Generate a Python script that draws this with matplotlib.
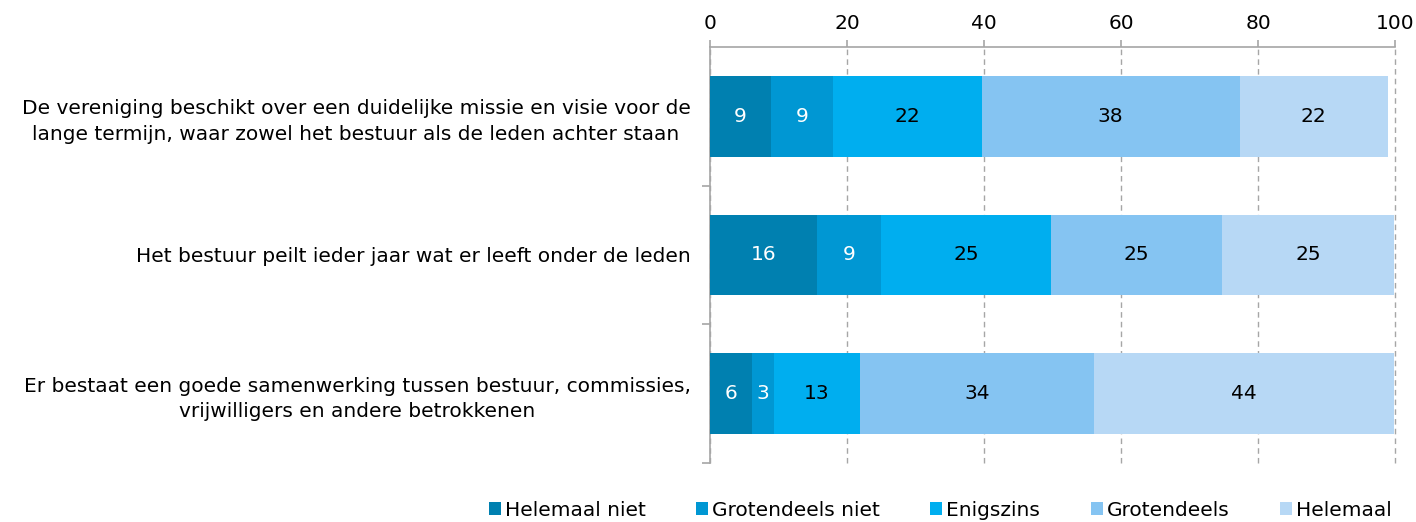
import numpy as np
import matplotlib.pyplot as plt

plt.rcParams['font.family'] = ['DejaVu Sans']

statements = [
    "De vereniging beschikt over een duidelijke missie en visie voor de\nlange termijn, waar zowel het bestuur als de leden achter staan",
    "Het bestuur peilt ieder jaar wat er leeft onder de leden",
    "Er bestaat een goede samenwerking tussen bestuur, commissies,\nvrijwilligers en andere betrokkenen",
]
categories = ["Helemaal niet", "Grotendeels niet", "Enigszins", "Grotendeels", "Helemaal"]
colors = ["#0080B0", "#0097D3", "#00AEEF", "#85C4F2", "#B7D8F5"]
text_colors = ["white", "white", "black", "black", "black"]

# percentages per category (rows = statements)
helemaal_niet = [8.9, 15.6, 6.1]
grotendeels_niet = [9.1, 9.4, 3.2]
enigszins = [21.7, 24.8, 12.6]
grotendeels = [37.6, 25.0, 34.2]
helemaal = [21.7, 25.0, 43.7]
series = [helemaal_niet, grotendeels_niet, enigszins, grotendeels, helemaal]

FS = 14.5

fig, ax = plt.subplots(figsize=(14.16, 5.22), dpi=100)
fig.subplots_adjust(left=0.5014, right=0.9852, top=0.910, bottom=0.113)

y = np.arange(len(statements))
left = np.zeros(len(statements))
for vals, name, col, tcol in zip(series, categories, colors, text_colors):
    bars = ax.barh(y, vals, left=left, height=0.58, color=col, label=name, zorder=3)
    ax.bar_label(bars, labels=[f"{v:.0f}" for v in vals], label_type="center",
                 color=tcol, fontsize=FS)
    left += np.array(vals)

ax.set_xlim(0, 100)
ax.set_ylim(2.5, -0.5)
ax.set_xticks(range(0, 101, 20))
ax.xaxis.tick_top()
ax.tick_params(axis="x", direction="out", length=5, width=1.2, color="#A6A6A6", labelsize=FS, pad=5)

ax.set_yticks(y)
ax.set_yticklabels(statements, fontsize=FS)
for t in ax.get_yticklabels():
    t.set_multialignment("center")
    t.set_linespacing(1.45)
ax.tick_params(axis="y", length=0, pad=14)
ax.set_yticks([0.5, 1.5, 2.5], minor=True)
ax.tick_params(axis="y", which="minor", length=6, width=1.2, color="#A6A6A6")

ax.grid(axis="x", linestyle=(0, (4, 3)), color="#A6A6A6", linewidth=1, zorder=0)
for gl in ax.get_xgridlines():
    gl.set_clip_on(False)
for s in ["right", "bottom"]:
    ax.spines[s].set_visible(False)
for s in ["top", "left"]:
    ax.spines[s].set_color("#A6A6A6")
    ax.spines[s].set_linewidth(1.2)

ax.legend(loc="center", bbox_to_anchor=(0.336, -0.113), ncol=5, frameon=False,
          fontsize=FS, handlelength=0.6, handleheight=0.6, handletextpad=0.2,
          columnspacing=2.5, borderaxespad=0)

plt.savefig("out.png", dpi=100)
